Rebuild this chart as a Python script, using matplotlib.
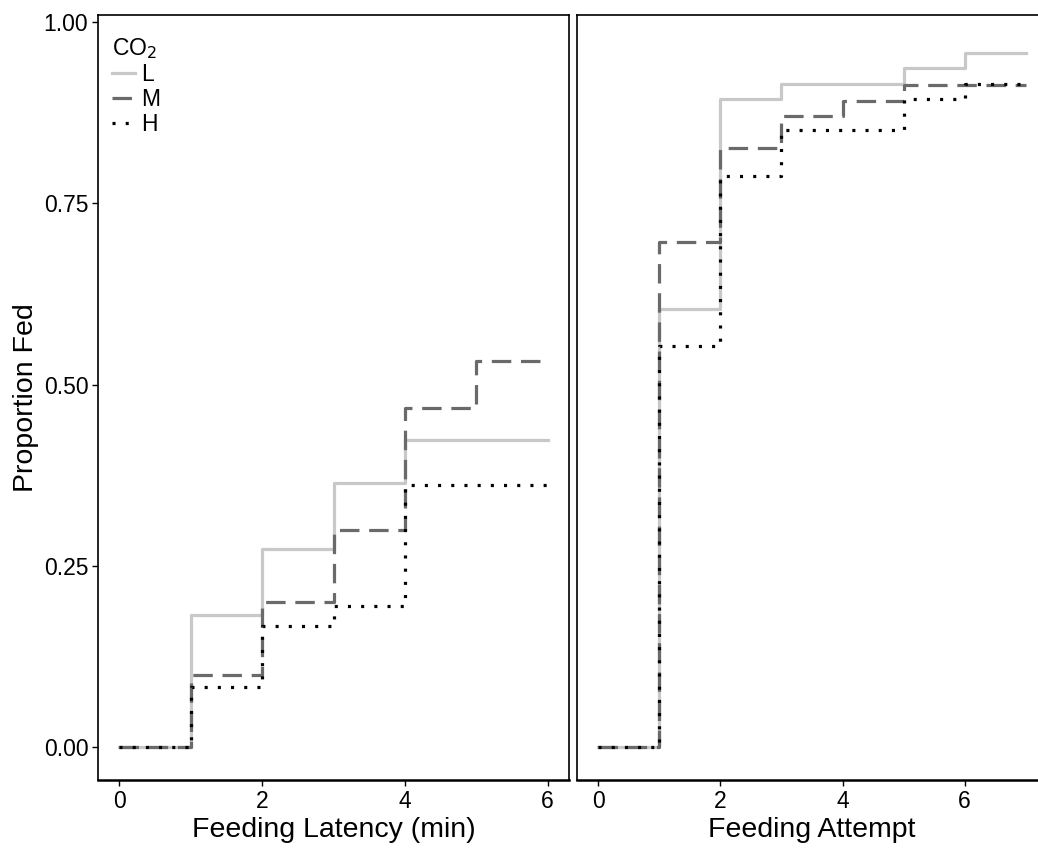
import matplotlib.pyplot as plt

plt.rcParams['font.family'] = ['Liberation Sans', 'DejaVu Sans']
plt.rcParams['lines.scale_dashes'] = False

# cumulative proportion fed, step data
lat_x = [0, 1, 2, 3, 4, 5, 6]
lat_L = [0, 0.182, 0.273, 0.364, 0.424, 0.424, 0.424]
lat_M = [0, 0.100, 0.200, 0.300, 0.467, 0.533, 0.533]
lat_H = [0, 0.083, 0.167, 0.194, 0.361, 0.361, 0.361]

att_x = [0, 1, 2, 3, 4, 5, 6, 7]
att_L = [0, 0.604, 0.894, 0.915, 0.915, 0.936, 0.957, 0.957]
att_M = [0, 0.696, 0.826, 0.870, 0.891, 0.913, 0.913, 0.913]
att_H = [0, 0.553, 0.787, 0.851, 0.851, 0.894, 0.915, 0.915]

groups = ['L', 'M', 'H']
styles = {
    'L': dict(color='#c8c8c8', linestyle='-'),
    'M': dict(color='#6a6a6a', linestyle=(0, (14, 7))),
    'H': dict(color='black', linestyle=(0, (2.2, 7.3))),
}

W, H = 1038, 852
fig = plt.figure(figsize=(W / 100, H / 100), dpi=100)
ax1 = fig.add_axes([98 / W, 72 / H, 471 / W, 765 / H])
ax2 = fig.add_axes([577 / W, 72 / H, 470 / W, 765 / H])

for g, y in zip(groups, [lat_L, lat_M, lat_H]):
    ax1.step(lat_x, y, where='post', lw=2.3, label=g, **styles[g])
for g, y in zip(groups, [att_L, att_M, att_H]):
    ax2.step(att_x, y, where='post', lw=2.3, label=g, **styles[g])

for ax in (ax1, ax2):
    ax.set_ylim(-0.0455, 1.0097)
    ax.set_yticks([0, 0.25, 0.5, 0.75, 1.0])
    ax.tick_params(direction='out', length=4, width=1, labelsize=16.5,
                   colors='black', pad=3)
    for s in ax.spines.values():
        s.set_linewidth(1.2)
    ax.spines['bottom'].set_linewidth(1.8)

ax1.set_xlim(-0.3, 6.3)
ax2.set_xlim(-0.35, 7.35)
ax1.set_xticks([0, 2, 4, 6])
ax2.set_xticks([0, 2, 4, 6])
ax1.set_yticklabels(['0.00', '0.25', '0.50', '0.75', '1.00'])
ax2.tick_params(axis='y', left=False, labelleft=False)

ax1.set_xlabel('Feeding Latency (min)', fontsize=20.5, labelpad=3)
ax2.set_xlabel('Feeding Attempt', fontsize=20.5, labelpad=3)
ax1.set_ylabel('Proportion Fed', fontsize=20.5, labelpad=3)

leg = ax1.legend(title='CO$_2$', loc='upper left', frameon=False,
                 fontsize=16.5, title_fontsize=16.5, handlelength=1.0,
                 handletextpad=0.3, labelspacing=0.08,
                 borderaxespad=0.2, bbox_to_anchor=(0.0, 0.99))
leg._legend_box.align = 'left'

fig.savefig('out.png', dpi=100)
